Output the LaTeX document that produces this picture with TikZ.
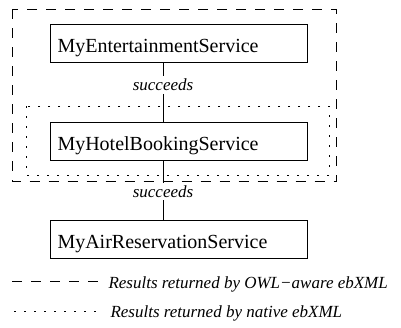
\documentclass[tikz,border=0pt]{standalone}
\usepackage{fontspec}
\setmainfont{Liberation Serif}
\usetikzlibrary{positioning}

\begin{document}
\begin{tikzpicture}[x=0.5pt, y=-0.5pt, line width=0.5pt,
    svcbox/.style={draw, anchor=north west, inner xsep=3.75pt, inner ysep=0pt,
        text width=121pt, text height=14pt, text depth=4.85pt, align=left,
        font=\fontsize{10}{12}\selectfont},
    relnote/.style={inner sep=1.2pt, font=\fontsize{8.5}{10}\selectfont\itshape},
    legtext/.style={anchor=base west, inner sep=0pt, font=\fontsize{8.5}{10}\selectfont\itshape},
    owlframe/.style={dash pattern=on 5pt off 4.5pt},
    nativeframe/.style={dash pattern=on 1pt off 4pt}]
    \useasboundingbox (0,0) rectangle (401,327);
    % Services
    \node[svcbox] (ent) at (49.5,24) {MyEntertainmentService};
    \node[svcbox] (hotel) at (49.5,122) {MyHotelBookingService};
    \node[svcbox] (air) at (49.5,220) {MyAirReservationService};
    % Relations
    \node[relnote] (succA) at (163,85) {succeeds};
    \node[relnote] (succB) at (163,191.5) {succeeds};
    \draw (ent.south -| succA) -- (succA) -- (hotel.north -| succA);
    \draw (hotel.south -| succB) -- (succB) -- (air.north -| succB);
    % Result sets
    \draw[owlframe] (12,9.3) rectangle (336.7,181.7);
    \draw[nativeframe] (26,106) rectangle (329,175);
    % Legend
    \node[legtext] (legowl) at (108,288) {Results returned by OWL−aware ebXML};
    \node[legtext] (legnative) at (110,317) {Results returned by native ebXML};
    \draw[owlframe] (12,281) -- (101.7,281);
    \draw[nativeframe] (14,311) -- (97,311);
\end{tikzpicture}
\end{document}
